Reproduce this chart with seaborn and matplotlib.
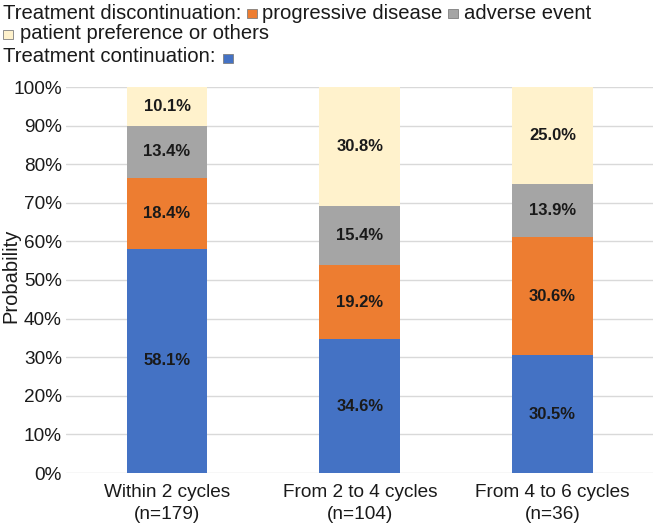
import matplotlib

matplotlib.use("Agg")
import matplotlib.pyplot as plt
import numpy as np
import seaborn as sns
from matplotlib.patches import Rectangle
from matplotlib.ticker import PercentFormatter

categories = ["Within 2 cycles\n(n=179)", "From 2 to 4 cycles\n(n=104)", "From 4 to 6 cycles\n(n=36)"]
continuation = [58.1, 34.6, 30.5]
progressive = [18.4, 19.2, 30.6]
adverse = [13.4, 15.4, 13.9]
preference = [10.1, 30.8, 25.0]

series = [continuation, progressive, adverse, preference]
colors = ["#4472C4", "#ED7D31", "#A5A5A5", "#FFF2CC"]

sns.set_theme(style="white")
plt.rcParams["font.family"] = ["Liberation Sans", "DejaVu Sans"]

fig = plt.figure(figsize=(6.57, 5.26), dpi=100)
ax = fig.add_axes([66 / 657, 1 - 473 / 526, 587 / 657, 386 / 526])

bottom = np.zeros(len(categories))
for values, color in zip(series, colors):
    vals = np.array(values) / 100
    sns.barplot(x=categories, y=vals, bottom=bottom, color=color, width=0.42,
                errorbar=None, ax=ax, zorder=2, linewidth=0, saturation=1)
    ax.bar_label(ax.containers[-1], labels=[f"{v:.1f}%" for v in values],
                 label_type="center", fontsize=12, fontweight="bold", color="#1a1a1a")
    bottom += vals

ax.set_ylim(0, 1)
ax.set_xlim(-0.524, 2.521)
ax.set_yticks(np.arange(0, 1.01, 0.1))
ax.yaxis.set_major_formatter(PercentFormatter(1.0, decimals=0))
ax.yaxis.grid(True, color="#D9D9D9", linewidth=1, zorder=0)
ax.set_axisbelow(True)
sns.despine(ax=ax, left=True, bottom=True, top=True, right=True)
ax.tick_params(axis="both", length=0, labelsize=13.7, colors="#1a1a1a")
ax.tick_params(axis="y", pad=3)
ax.tick_params(axis="x", pad=8)
for t in ax.get_xticklabels():
    t.set_linespacing(1.4)
ax.set_ylabel("Probability", fontsize=14.5, color="#1a1a1a")
ax.yaxis.set_label_coords((20 - 66) / 587, (473 - 276) / 386)
ax.set_xlabel("")


# legend drawn as text with colored squares, like the source figure
def square(x, y, color):
    fig.patches.append(Rectangle((x / 657, 1 - y / 526), 10 / 657, 9 / 526,
                                 transform=fig.transFigure, facecolor=color,
                                 edgecolor="#7f7f7f", linewidth=0.6))


def label(x, y, text):
    fig.text(x / 657, 1 - y / 526, text, fontsize=14.6, color="#1a1a1a", va="baseline")


label(3, 19, "Treatment discontinuation:")
square(247, 18, colors[1])
label(262, 19, "progressive disease")
square(448, 18, colors[2])
label(464, 19, "adverse event")
square(3, 39, colors[3])
label(20, 39, "patient preference or others")
label(3, 62, "Treatment continuation:")
square(223, 63, colors[0])

fig.savefig("out.png", dpi=100)
